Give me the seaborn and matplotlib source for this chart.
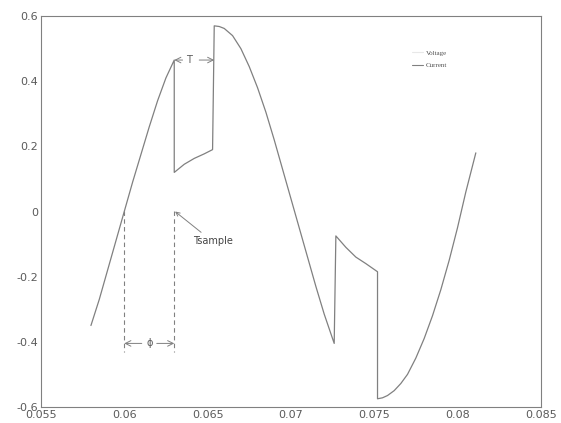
import numpy as np
import pandas as pd
import seaborn as sns
import matplotlib
matplotlib.use("Agg")
import matplotlib.pyplot as plt
from matplotlib.lines import Line2D

# current waveform (time in s, amplitude)
t_rise = [0.0580, 0.0585, 0.0590, 0.0595, 0.0600, 0.0605, 0.0610, 0.0615, 0.0620, 0.0625, 0.0630]
i_rise = [-0.35, -0.27, -0.18, -0.09, 0.0, 0.09, 0.175, 0.26, 0.34, 0.41, 0.465]

t_hold1 = [0.0630, 0.0636, 0.0642, 0.0648, 0.0653]
i_hold1 = [0.12, 0.145, 0.163, 0.177, 0.19]

t_fall = [0.0654, 0.0657, 0.0660, 0.0665, 0.0670, 0.0675, 0.0680, 0.0685, 0.0690, 0.0695,
          0.0700, 0.0705, 0.0710, 0.0715, 0.0720, 0.0726]
i_fall = [0.57, 0.568, 0.562, 0.54, 0.50, 0.445, 0.38, 0.305, 0.22, 0.13,
          0.04, -0.05, -0.14, -0.23, -0.315, -0.405]

t_hold2 = [0.0727, 0.0733, 0.0739, 0.0745, 0.0752]
i_hold2 = [-0.075, -0.11, -0.14, -0.16, -0.185]

t_end = [0.0752, 0.0755, 0.0758, 0.0762, 0.0766, 0.0770, 0.0775, 0.0780, 0.0785, 0.0790,
         0.0795, 0.0800, 0.0805, 0.0811]
i_end = [-0.575, -0.572, -0.565, -0.55, -0.528, -0.50, -0.45, -0.39, -0.32, -0.24,
         -0.15, -0.05, 0.06, 0.18]

# annotation positions
t_zero = 0.0600      # voltage zero crossing
t_sample = 0.0630    # sampling instant
t_switch = 0.0654    # end of interval T

x_ticks = [0.055, 0.06, 0.065, 0.07, 0.075, 0.08, 0.085]
x_labels = ["0.055", "0.06", "0.065", "0.07", "0.075", "0.08", "0.085"]
y_ticks = [-0.6, -0.4, -0.2, 0, 0.2, 0.4, 0.6]
y_labels = ["-0.6", "-0.4", "-0.2", "0", "0.2", "0.4", "0.6"]

df = pd.DataFrame({
    "t": t_rise + t_hold1 + t_fall + t_hold2 + t_end,
    "i": i_rise + i_hold1 + i_fall + i_hold2 + i_end,
})

sns.set_style("white")
plt.rcParams["font.family"] = ["DejaVu Sans"]

grey = "#808080"
txt = "#5a5a5a"

fig = plt.figure(figsize=(5.61, 4.23), dpi=100)
ax = fig.add_axes([0.073, 0.038, 0.891, 0.924])

sns.lineplot(data=df, x="t", y="i", sort=False, estimator=None, color=grey,
             linewidth=0.9, ax=ax, legend=False)

# dashed guides for phi and Tsample
ax.plot([t_zero, t_zero], [0.0, -0.43], ls=(0, (4, 3)), color=grey, lw=0.8)
ax.plot([t_sample, t_sample], [0.0, -0.43], ls=(0, (4, 3)), color=grey, lw=0.8)

arw = dict(arrowstyle="->", color=grey, lw=0.7, shrinkA=0, shrinkB=0)
t_phi = (t_zero + t_sample) / 2
ax.annotate("", xy=(t_zero, -0.405), xytext=(t_phi - 0.00045, -0.405), arrowprops=arw)
ax.annotate("", xy=(t_sample, -0.405), xytext=(t_phi + 0.00045, -0.405), arrowprops=arw)
ax.text(t_phi, -0.405, "ϕ", ha="center", va="center", fontsize=7, color=txt)

t_T = 0.0639
ax.annotate("", xy=(t_sample, 0.465), xytext=(t_T - 0.0004, 0.465), arrowprops=arw)
ax.annotate("", xy=(t_switch, 0.465), xytext=(t_T + 0.0006, 0.465), arrowprops=arw)
ax.text(t_T, 0.465, "T", ha="center", va="center", fontsize=7, color=txt)

ax.annotate("Tsample", xy=(t_sample + 0.00005, 0.0), xytext=(0.0641, -0.092),
            fontsize=7, color="#444444", va="center",
            arrowprops=dict(arrowstyle="->", color=grey, lw=0.7, shrinkA=1, shrinkB=0))

ax.set_xlim(0.055, 0.085)
ax.set_ylim(-0.6, 0.6)
ax.set_xticks(x_ticks)
ax.set_xticklabels(x_labels)
ax.set_yticks(y_ticks)
ax.set_yticklabels(y_labels)
ax.set_xlabel("")
ax.set_ylabel("")
ax.tick_params(direction="in", length=3, width=0.6, colors=grey, labelcolor=txt,
               labelsize=8, pad=2, top=False, right=False)
for s in ax.spines.values():
    s.set_color(grey)
    s.set_linewidth(0.8)

handles = [Line2D([], [], color="#e8e8e8", lw=0.8),
           Line2D([], [], color=grey, lw=0.8)]
ax.legend(handles, ["Voltage", "Current"], loc="upper left",
          bbox_to_anchor=(0.73, 0.93), frameon=False, prop={"family": "Liberation Serif", "size": 5},
          handlelength=1.6, handletextpad=0.4, labelspacing=1.0, labelcolor="#555555")

fig.savefig("out.png", dpi=100)
